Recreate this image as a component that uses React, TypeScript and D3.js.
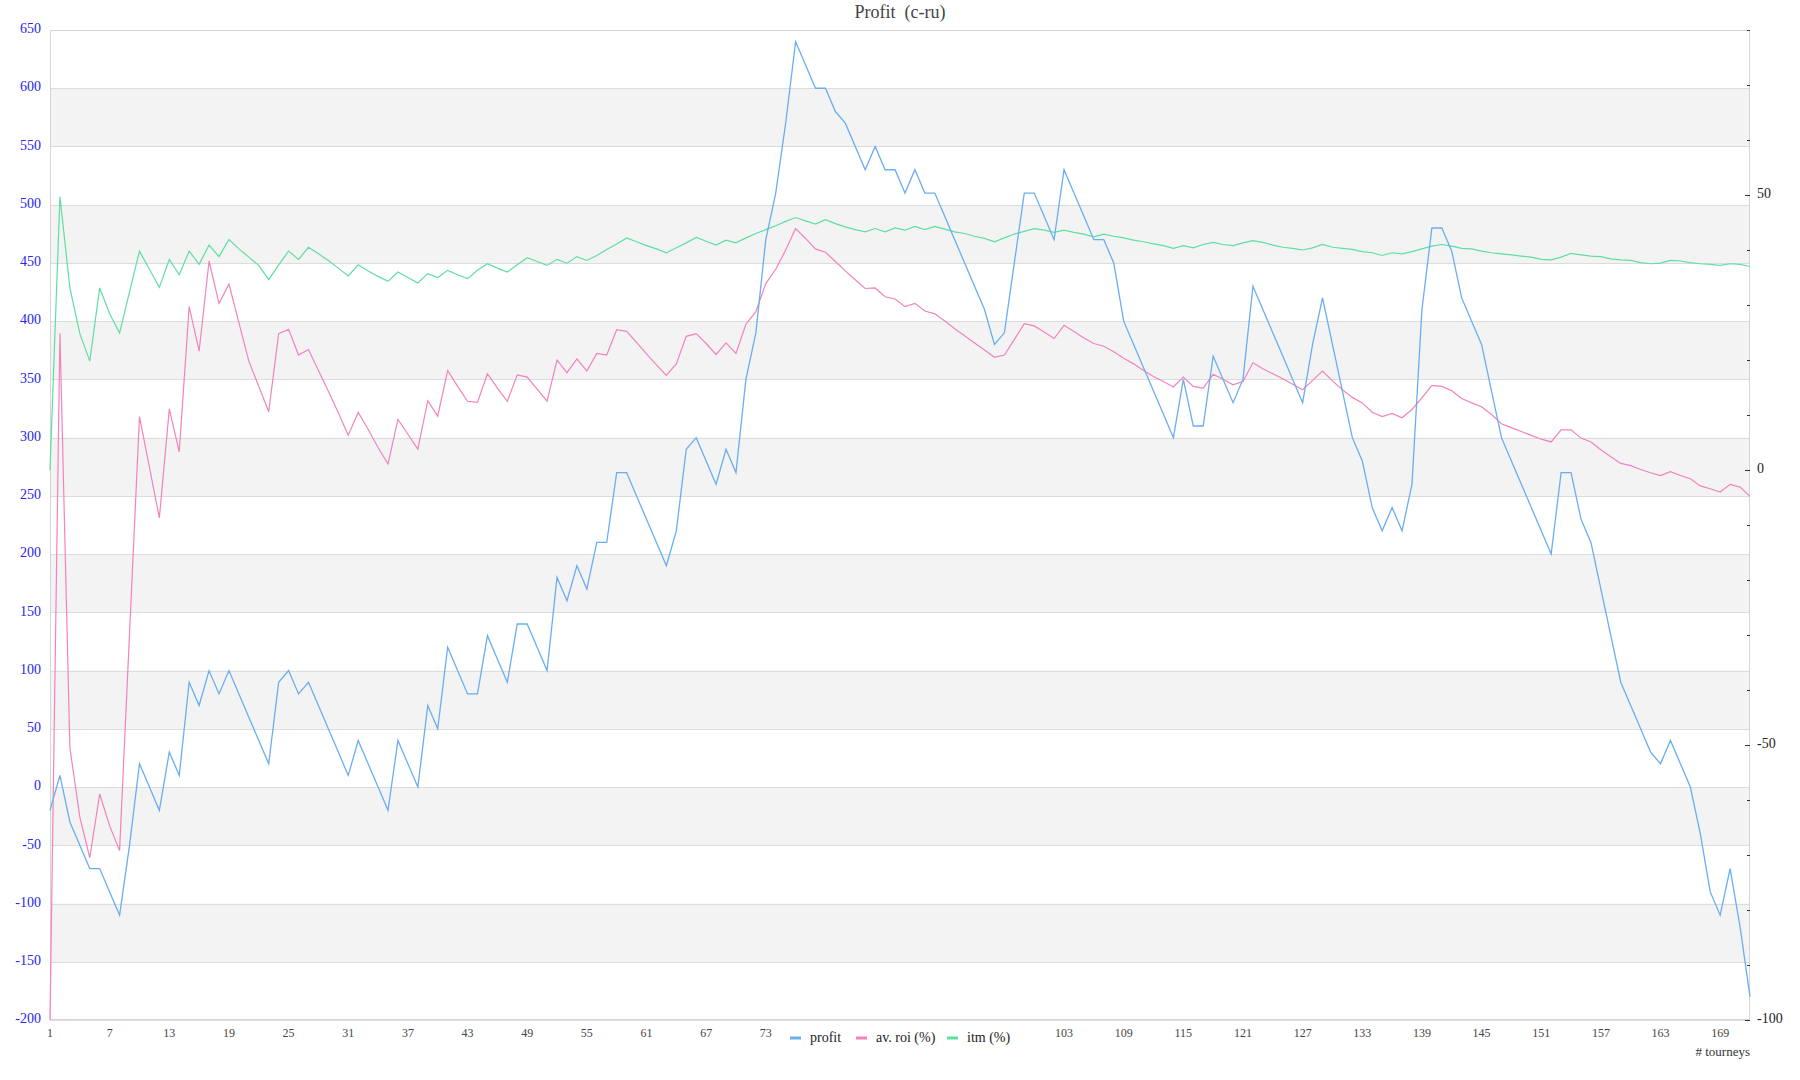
import React from "react";
import * as d3 from "d3";

const profit = [
  -20, 10, -30, -50, -70, -70, -90, -110, -50, 20,
  0, -20, 30, 10, 90, 70, 100, 80, 100, 80,
  60, 40, 20, 90, 100, 80, 90, 70, 50, 30,
  10, 40, 20, 0, -20, 40, 20, 0, 70, 50,
  120, 100, 80, 80, 130, 110, 90, 140, 140, 120,
  100, 180, 160, 190, 170, 210, 210, 270, 270, 250,
  230, 210, 190, 220, 290, 300, 280, 260, 290, 270,
  350, 390, 470, 510, 570, 640, 620, 600, 600, 580,
  570, 550, 530, 550, 530, 530, 510, 530, 510, 510,
  490, 470, 450, 430, 410, 380, 390, 450, 510, 510,
  490, 470, 530, 510, 490, 470, 470, 450, 400, 380,
  360, 340, 320, 300, 350, 310, 310, 370, 350, 330,
  350, 430, 410, 390, 370, 350, 330, 380, 420, 380,
  340, 300, 280, 240, 220, 240, 220, 260, 410, 480,
  480, 460, 420, 400, 380, 340, 300, 280, 260, 240,
  220, 200, 270, 270, 230, 210, 170, 130, 90, 70,
  50, 30, 20, 40, 20, 0, -40, -90, -110, -70,
  -120, -180,
];

const avRoi = [
  -100, 24.8, -50.5, -63.1, -70.5, -58.9, -64.7, -69.2, -29.7, 9.7,
  0.5, -8.7, 11.1, 3.3, 29.7, 21.6, 38.0, 30.3, 33.8, 26.8,
  19.8, 15.2, 10.6, 24.8, 25.6, 20.9, 21.9, 18.1, 14.3, 10.4,
  6.3, 10.5, 7.4, 4.1, 1.1, 9.2, 6.5, 3.8, 12.6, 9.8,
  18.1, 15.2, 12.5, 12.3, 17.5, 14.9, 12.5, 17.3, 16.9, 14.7,
  12.5, 20.0, 17.7, 20.2, 18.0, 21.2, 20.9, 25.5, 25.2, 23.2,
  21.1, 19.1, 17.2, 19.3, 24.3, 24.8, 23.0, 21.0, 23.1, 21.2,
  26.5, 28.8, 33.9, 36.5, 40.0, 43.9, 42.1, 40.2, 39.6, 37.9,
  36.2, 34.6, 33.0, 33.1, 31.5, 31.1, 29.7, 30.3, 28.9, 28.4,
  27.1, 25.7, 24.4, 23.1, 21.8, 20.5, 20.9, 23.7, 26.6, 26.2,
  25.1, 23.9, 26.3, 25.2, 24.0, 23.0, 22.5, 21.5, 20.3, 19.3,
  18.1, 17.0, 16.1, 15.1, 16.9, 15.2, 14.9, 17.4, 16.5, 15.5,
  16.1, 19.5, 18.4, 17.5, 16.6, 15.6, 14.6, 16.3, 18.0, 16.2,
  14.6, 13.2, 12.2, 10.5, 9.7, 10.3, 9.5, 11.0, 13.1, 15.4,
  15.2, 14.4, 13.0, 12.2, 11.5, 10.1, 8.4, 7.7, 7.0, 6.3,
  5.6, 5.1, 7.3, 7.3, 5.8, 5.1, 3.7, 2.4, 1.2, 0.8,
  0.1, -0.5, -1.0, -0.3, -1.0, -1.6, -2.9, -3.4, -4.0, -2.6,
  -3.1, -4.8,
];

const itm = [
  0, 49.7, 33.1, 24.8, 19.8, 33.1, 28.4, 24.9, 32.4, 39.8,
  36.5, 33.2, 38.3, 35.5, 39.8, 37.4, 40.9, 38.8, 41.9, 40.2,
  38.7, 37.2, 34.6, 37.3, 39.8, 38.3, 40.5, 39.3, 38.1, 36.7,
  35.3, 37.3, 36.2, 35.2, 34.3, 36.0, 35.0, 34.0, 35.7, 35.0,
  36.3, 35.5, 34.8, 36.3, 37.5, 36.7, 36.0, 37.3, 38.6, 37.9,
  37.2, 38.3, 37.6, 38.8, 38.1, 39.0, 40.1, 41.1, 42.2, 41.5,
  40.8, 40.2, 39.5, 40.4, 41.3, 42.3, 41.6, 40.9, 41.8, 41.3,
  42.2, 43.0, 43.7, 44.4, 45.2, 45.9, 45.3, 44.7, 45.5, 44.8,
  44.2, 43.7, 43.3, 43.9, 43.3, 44.0, 43.6, 44.3, 43.7, 44.3,
  43.8, 43.3, 43.0, 42.5, 42.1, 41.5, 42.2, 42.9, 43.4, 43.9,
  43.6, 43.2, 43.6, 43.2, 42.9, 42.4, 42.9, 42.5, 42.2, 41.8,
  41.5, 41.1, 40.8, 40.3, 40.8, 40.4, 41.0, 41.4, 41.0, 40.8,
  41.3, 41.7, 41.4, 40.9, 40.5, 40.3, 40.0, 40.4, 41.0, 40.5,
  40.3, 40.1, 39.7, 39.5, 39.0, 39.5, 39.3, 39.7, 40.2, 40.7,
  41.0, 40.7, 40.3, 40.2, 39.8, 39.5, 39.3, 39.1, 38.9, 38.7,
  38.3, 38.2, 38.7, 39.4, 39.1, 38.9, 38.8, 38.4, 38.2, 38.1,
  37.7, 37.5, 37.6, 38.1, 38.0, 37.7, 37.5, 37.4, 37.2, 37.5,
  37.4, 37.0,
];

const leftTicks = [650, 600, 550, 500, 450, 400, 350, 300, 250, 200, 150, 100, 50, 0, -50, -100, -150, -200];
const rightLabelTicks = [50, 0, -50, -100];
const xLabelTicks = d3.range(1, 172, 6);
const legendItems = [
  { name: "profit", color: "#6aaef0" },
  { name: "av. roi (%)", color: "#f283bb" },
  { name: "itm (%)", color: "#5fdea3" },
];

const W = 1800;
const H = 1080;
const M = { left: 50, right: 1750, top: 30, bottom: 1020 };
const FONT = "'Liberation Serif', 'DejaVu Serif', serif";

export default function App() {
  const n = profit.length;
  const x = d3.scaleLinear().domain([1, n]).range([M.left, M.right]);
  const yL = d3.scaleLinear().domain([-200, 650]).range([M.bottom, M.top]);
  const yR = d3.scaleLinear().domain([-100, 80]).range([M.bottom, M.top]);

  const lineL = d3.line<number>().x((_, i) => x(i + 1)).y((d) => yL(d));
  const lineR = d3.line<number>().x((_, i) => x(i + 1)).y((d) => yR(d));

  const bands = d3.range(-150, 650, 100); // grey bands [v, v+50]
  const minorTicks = d3.range(-100, 81, 10);

  // legend layout
  const legendBox = { x: 780, y: 1024, w: 236, h: 26 };
  const legendX = [790, 856, 947];
  const legendY = 1037;

  // x labels hidden beneath the legend box are not drawn (as in the reference)
  const visibleXTicks = xLabelTicks.filter(
    (v) => x(v) < legendBox.x - 8 || x(v) > legendBox.x + legendBox.w + 8
  );

  return (
    <svg
      width={W}
      height={H}
      style={{ position: "absolute", left: 0, top: 0, background: "#fff" }}
      fontFamily={FONT}
    >
      <rect x={0} y={0} width={W} height={H} fill="#fff" />
      {bands.map((v) => (
        <rect
          key={"b" + v}
          x={M.left}
          width={M.right - M.left}
          y={yL(v + 50)}
          height={yL(v) - yL(v + 50)}
          fill="#f3f3f3"
        />
      ))}
      {leftTicks.map((v) => (
        <line
          key={"g" + v}
          x1={M.left}
          x2={M.right}
          y1={Math.round(yL(v)) + 0.5}
          y2={Math.round(yL(v)) + 0.5}
          stroke="#dcdcdc"
          strokeWidth={1}
        />
      ))}
      <rect
        x={M.left + 0.5}
        y={M.top + 0.5}
        width={M.right - M.left - 1}
        height={M.bottom - M.top - 1}
        fill="none"
        stroke="#d6d6d6"
      />
      <path d={lineR(itm) || ""} fill="none" stroke={legendItems[2].color} strokeWidth={1.2} />
      <path d={lineR(avRoi) || ""} fill="none" stroke={legendItems[1].color} strokeWidth={1.2} />
      <path d={lineL(profit) || ""} fill="none" stroke={legendItems[0].color} strokeWidth={1.3} />

      {leftTicks.map((v) => (
        <text
          key={"l" + v}
          x={41}
          y={yL(v)}
          textAnchor="end"
          dominantBaseline="middle"
          fontSize={14}
          fill="#2626f0"
        >
          {v}
        </text>
      ))}
      {minorTicks.map((v) => {
        const major = rightLabelTicks.includes(v);
        return (
          <line
            key={"rt" + v}
            x1={M.right - (major ? 5 : 3)}
            x2={M.right}
            y1={Math.round(yR(v)) + 0.5}
            y2={Math.round(yR(v)) + 0.5}
            stroke="#333"
            strokeWidth={1}
          />
        );
      })}
      {rightLabelTicks.map((v) => (
        <text
          key={"rl" + v}
          x={1757}
          y={yR(v)}
          dominantBaseline="middle"
          fontSize={14}
          fill="#222"
        >
          {v}
        </text>
      ))}
      {visibleXTicks.map((v) => (
        <text
          key={"x" + v}
          x={x(v)}
          y={1037}
          textAnchor="middle"
          fontSize={12}
          fill="#444"
        >
          {v}
        </text>
      ))}
      <text x={M.right} y={1056} textAnchor="end" fontSize={13} fill="#333">
        # tourneys
      </text>

      <rect x={legendBox.x} y={legendBox.y} width={legendBox.w} height={legendBox.h} fill="#fff" />
      {legendItems.map((it, i) => (
        <g key={it.name}>
          <line
            x1={legendX[i]}
            x2={legendX[i] + 11}
            y1={legendY + 1}
            y2={legendY + 1}
            stroke={it.color}
            strokeWidth={3}
          />
          <text x={legendX[i] + 20} y={legendY + 5} fontSize={14} fill="#222">
            {it.name}
          </text>
        </g>
      ))}

      <text x={900} y={18} textAnchor="middle" fontSize={18} fill="#444" style={{ whiteSpace: "pre" }}>
        {"Profit  (c-ru)"}
      </text>
    </svg>
  );
}
